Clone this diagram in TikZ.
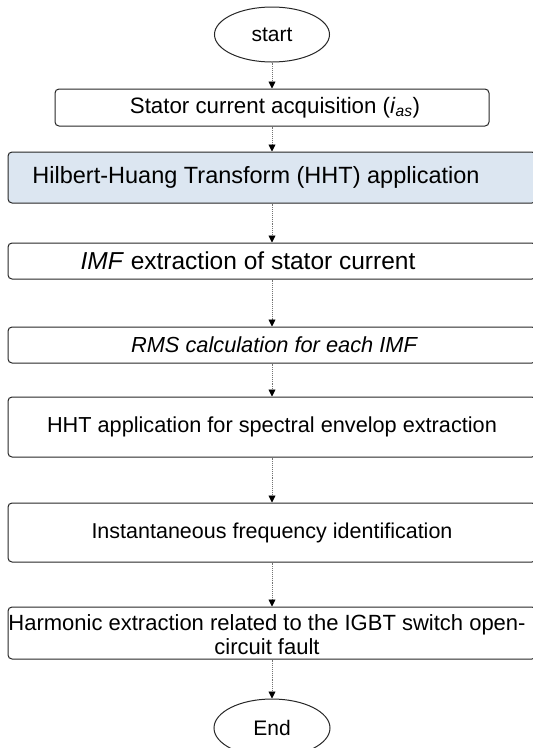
\documentclass[tikz,border=0pt]{standalone}
\usepackage{fontspec}
\setmainfont{Liberation Sans}
\usetikzlibrary{arrows.meta,shapes.geometric}
\definecolor{hhtfill}{HTML}{DCE6F1}
\definecolor{edge}{HTML}{262626}
\begin{document}
\begin{tikzpicture}[x=1pt,y=-1pt,
  box/.style={draw=edge, line width=1pt, rounded corners=4pt, inner sep=0pt, minimum width=528pt},
  term/.style={draw=edge, line width=1pt, ellipse, inner sep=0pt},
  txt/.style={inner sep=0pt, font=\fontsize{21.6}{24}\selectfont},
  conn/.style={draw=black!55, line width=0.9pt, densely dotted, -{Triangle[black,width=7pt,length=7pt]}}]
\useasboundingbox (0,0) rectangle (533,748);
% terminals
\node[term, minimum width=115pt, minimum height=55pt, font=\fontsize{21}{24}\selectfont] (s) at (272,34.5) {start};
\node[term, minimum width=116pt, minimum height=58pt, font=\fontsize{21}{24}\selectfont] (e) at (272,728) {End};
% boxes
\node[box, minimum width=434pt, minimum height=37pt] (b1) at (272,107.5) {};
\node[box, fill=hhtfill, minimum height=51pt] (b2) at (272,177.5) {};
\node[box, minimum height=36pt] (b3) at (272,261) {};
\node[box, minimum height=36pt] (b4) at (272,345) {};
\node[box, minimum height=60pt] (b5) at (272,427) {};
\node[box, minimum height=59pt] (b6) at (272,532.5) {};
\node[box, minimum height=52pt] (b7) at (272,633) {};
% texts
\node[txt, font=\fontsize{22.3}{26}\selectfont] (t1) at (275,107.5) {Stator current acquisition (\textit{i}\textsubscript{\textit{as}})};
\node[txt, font=\fontsize{23.5}{26}\selectfont] (t2) at (256,177.5) {Hilbert-Huang Transform (HHT) application};
\node[txt, font=\fontsize{24.5}{26}\selectfont] (t3) at (248,261) {\textit{IMF} extraction of stator current};
\node[txt, font=\fontsize{21.8}{26}\selectfont\itshape] (t4) at (274,345) {RMS calculation for each IMF};
\node[txt, font=\fontsize{21.7}{26}\selectfont] (t5) at (272,427) {HHT application for spectral envelop extraction};
\node[txt, font=\fontsize{21.5}{26}\selectfont] (t6) at (272,532.5) {Instantaneous frequency identification};
\node[txt, font=\fontsize{22}{24}\selectfont, align=center] (t7) at (267,635) {Harmonic extraction related to the IGBT switch open-\\circuit fault};
% connectors
\draw[conn] (s) -- (b1);
\draw[conn] (b1) -- (b2);
\draw[conn] (b2) -- (b3);
\draw[conn] (b3) -- (b4);
\draw[conn] (b4) -- (b5);
\draw[conn] (b5) -- (b6);
\draw[conn] (b6) -- (b7);
\draw[conn] (b7) -- (e);
\end{tikzpicture}
\end{document}
